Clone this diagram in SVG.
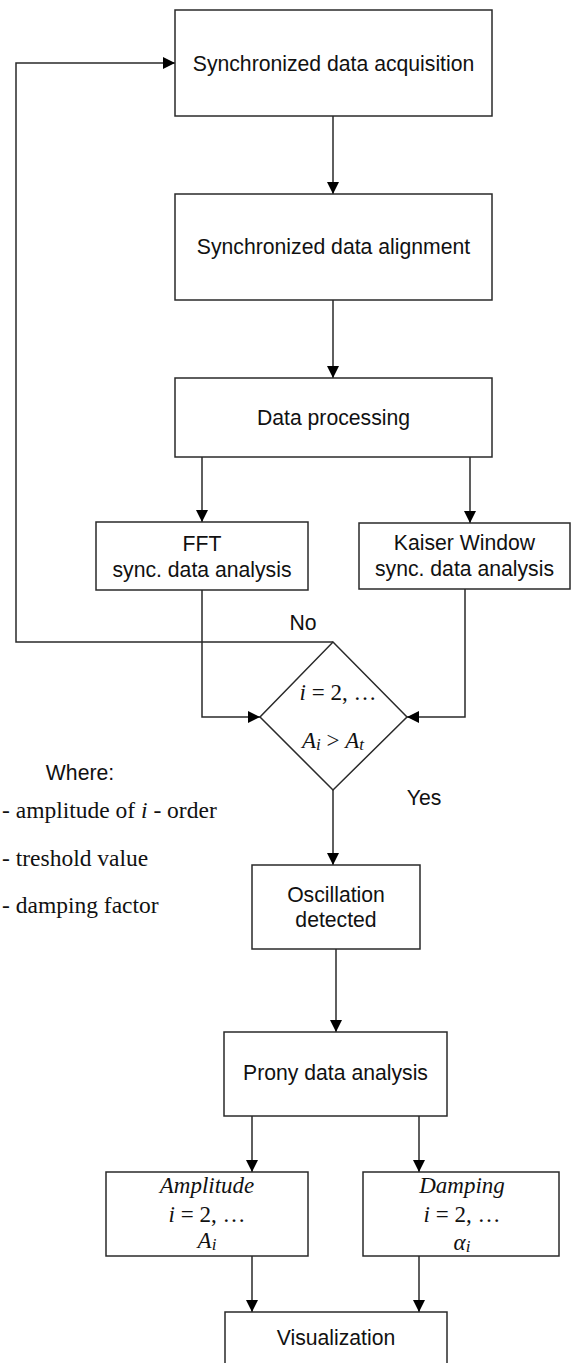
<svg xmlns="http://www.w3.org/2000/svg" width="574" height="1363" viewBox="0 0 574 1363">
<style>
.box{fill:#fff;stroke:#2a2a2a;stroke-width:1.5}
.ln{fill:none;stroke:#2a2a2a;stroke-width:1.5}
.t{font-family:"Liberation Sans",Arial,sans-serif;font-size:21.2px;fill:#111;text-anchor:middle}
.m{font-family:"Liberation Serif","Times New Roman",serif;font-size:23px;fill:#111;text-anchor:middle}
.lg{font-family:"Liberation Serif","Times New Roman",serif;font-size:23.5px;fill:#111}
.i{font-style:italic}
.sub{font-size:17px;font-style:italic}
</style>
<defs>
<marker id="ah" markerWidth="12" markerHeight="12" refX="12" refY="6" orient="auto" markerUnits="userSpaceOnUse">
<path d="M0,0 L12,6 L0,12 Z" fill="#000"/>
</marker>
</defs>
<g id="connectors">
<line class="ln" x1="333" y1="116" x2="333" y2="194" marker-end="url(#ah)"/>
<line class="ln" x1="333" y1="300" x2="333" y2="378" marker-end="url(#ah)"/>
<line class="ln" x1="202" y1="457" x2="202" y2="522" marker-end="url(#ah)"/>
<line class="ln" x1="470" y1="457" x2="470" y2="523" marker-end="url(#ah)"/>
<polyline class="ln" points="202,590 202,717 260,717" marker-end="url(#ah)"/>
<polyline class="ln" points="465,589 465,717 407,717" marker-end="url(#ah)"/>
<polyline class="ln" points="333,642 16,642 16,63 175,63" marker-end="url(#ah)"/>
<line class="ln" x1="333" y1="790" x2="333" y2="865" marker-end="url(#ah)"/>
<line class="ln" x1="336" y1="949" x2="336" y2="1032" marker-end="url(#ah)"/>
<line class="ln" x1="252" y1="1116" x2="252" y2="1172" marker-end="url(#ah)"/>
<line class="ln" x1="419" y1="1116" x2="419" y2="1172" marker-end="url(#ah)"/>
<line class="ln" x1="252" y1="1256" x2="252" y2="1312" marker-end="url(#ah)"/>
<line class="ln" x1="419" y1="1256" x2="419" y2="1312" marker-end="url(#ah)"/>
<text class="t" x="303" y="630">No</text>
<text class="t" x="424" y="805">Yes</text>
</g>
<g id="acquisition">
<rect class="box" x="175" y="10" width="317" height="106"/>
<text class="t" x="333.5" y="71">Synchronized data acquisition</text>
</g>
<g id="alignment">
<rect class="box" x="175" y="194" width="317" height="106"/>
<text class="t" x="333.5" y="254">Synchronized data alignment</text>
</g>
<g id="processing">
<rect class="box" x="175" y="378" width="317" height="79"/>
<text class="t" x="333.5" y="425">Data processing</text>
</g>
<g id="fft">
<rect class="box" x="96" y="522" width="212" height="68"/>
<text class="t" x="202" y="551">FFT</text>
<text class="t" x="202" y="577">sync. data analysis</text>
</g>
<g id="kaiser">
<rect class="box" x="359" y="523" width="211" height="66"/>
<text class="t" x="464.5" y="550">Kaiser Window</text>
<text class="t" x="464.5" y="576">sync. data analysis</text>
</g>
<g id="decision">
<polygon class="box" points="333,642 407,717 333,790 260,717"/>
<text class="m" x="338" y="700"><tspan class="i">i</tspan> = 2, …</text>
<text class="m" x="333" y="748"><tspan class="i">A</tspan><tspan class="sub" dy="2">i</tspan><tspan dy="-2"> &gt; </tspan><tspan class="i">A</tspan><tspan class="sub" dy="2">t</tspan></text>
</g>
<g id="legend">
<text class="t" x="80" y="780">Where:</text>
<text class="lg" x="2" y="818">- amplitude of <tspan class="i">i</tspan> - order</text>
<text class="lg" x="2" y="866">- treshold value</text>
<text class="lg" x="2" y="913">- damping factor</text>
</g>
<g id="oscillation">
<rect class="box" x="252" y="865" width="168" height="84"/>
<text class="t" x="336" y="902">Oscillation</text>
<text class="t" x="336" y="927">detected</text>
</g>
<g id="prony">
<rect class="box" x="224" y="1032" width="223" height="84"/>
<text class="t" x="335.5" y="1080">Prony data analysis</text>
</g>
<g id="amplitude">
<rect class="box" x="106" y="1172" width="202" height="84"/>
<text class="m" x="207" y="1193"><tspan class="i">Amplitude</tspan></text>
<text class="m" x="207" y="1222"><tspan class="i">i</tspan> = 2, …</text>
<text class="m" x="207" y="1248"><tspan class="i">A</tspan><tspan class="sub" dy="2">i</tspan></text>
</g>
<g id="damping">
<rect class="box" x="363" y="1172" width="196" height="84"/>
<text class="m" x="462" y="1193"><tspan class="i">Damping</tspan></text>
<text class="m" x="462" y="1222"><tspan class="i">i</tspan> = 2, …</text>
<text class="m" x="462" y="1250"><tspan class="i">α</tspan><tspan class="sub" dy="2">i</tspan></text>
</g>
<g id="visualization">
<rect class="box" x="225" y="1312" width="222" height="70"/>
<text class="t" x="336" y="1345">Visualization</text>
</g>
</svg>
